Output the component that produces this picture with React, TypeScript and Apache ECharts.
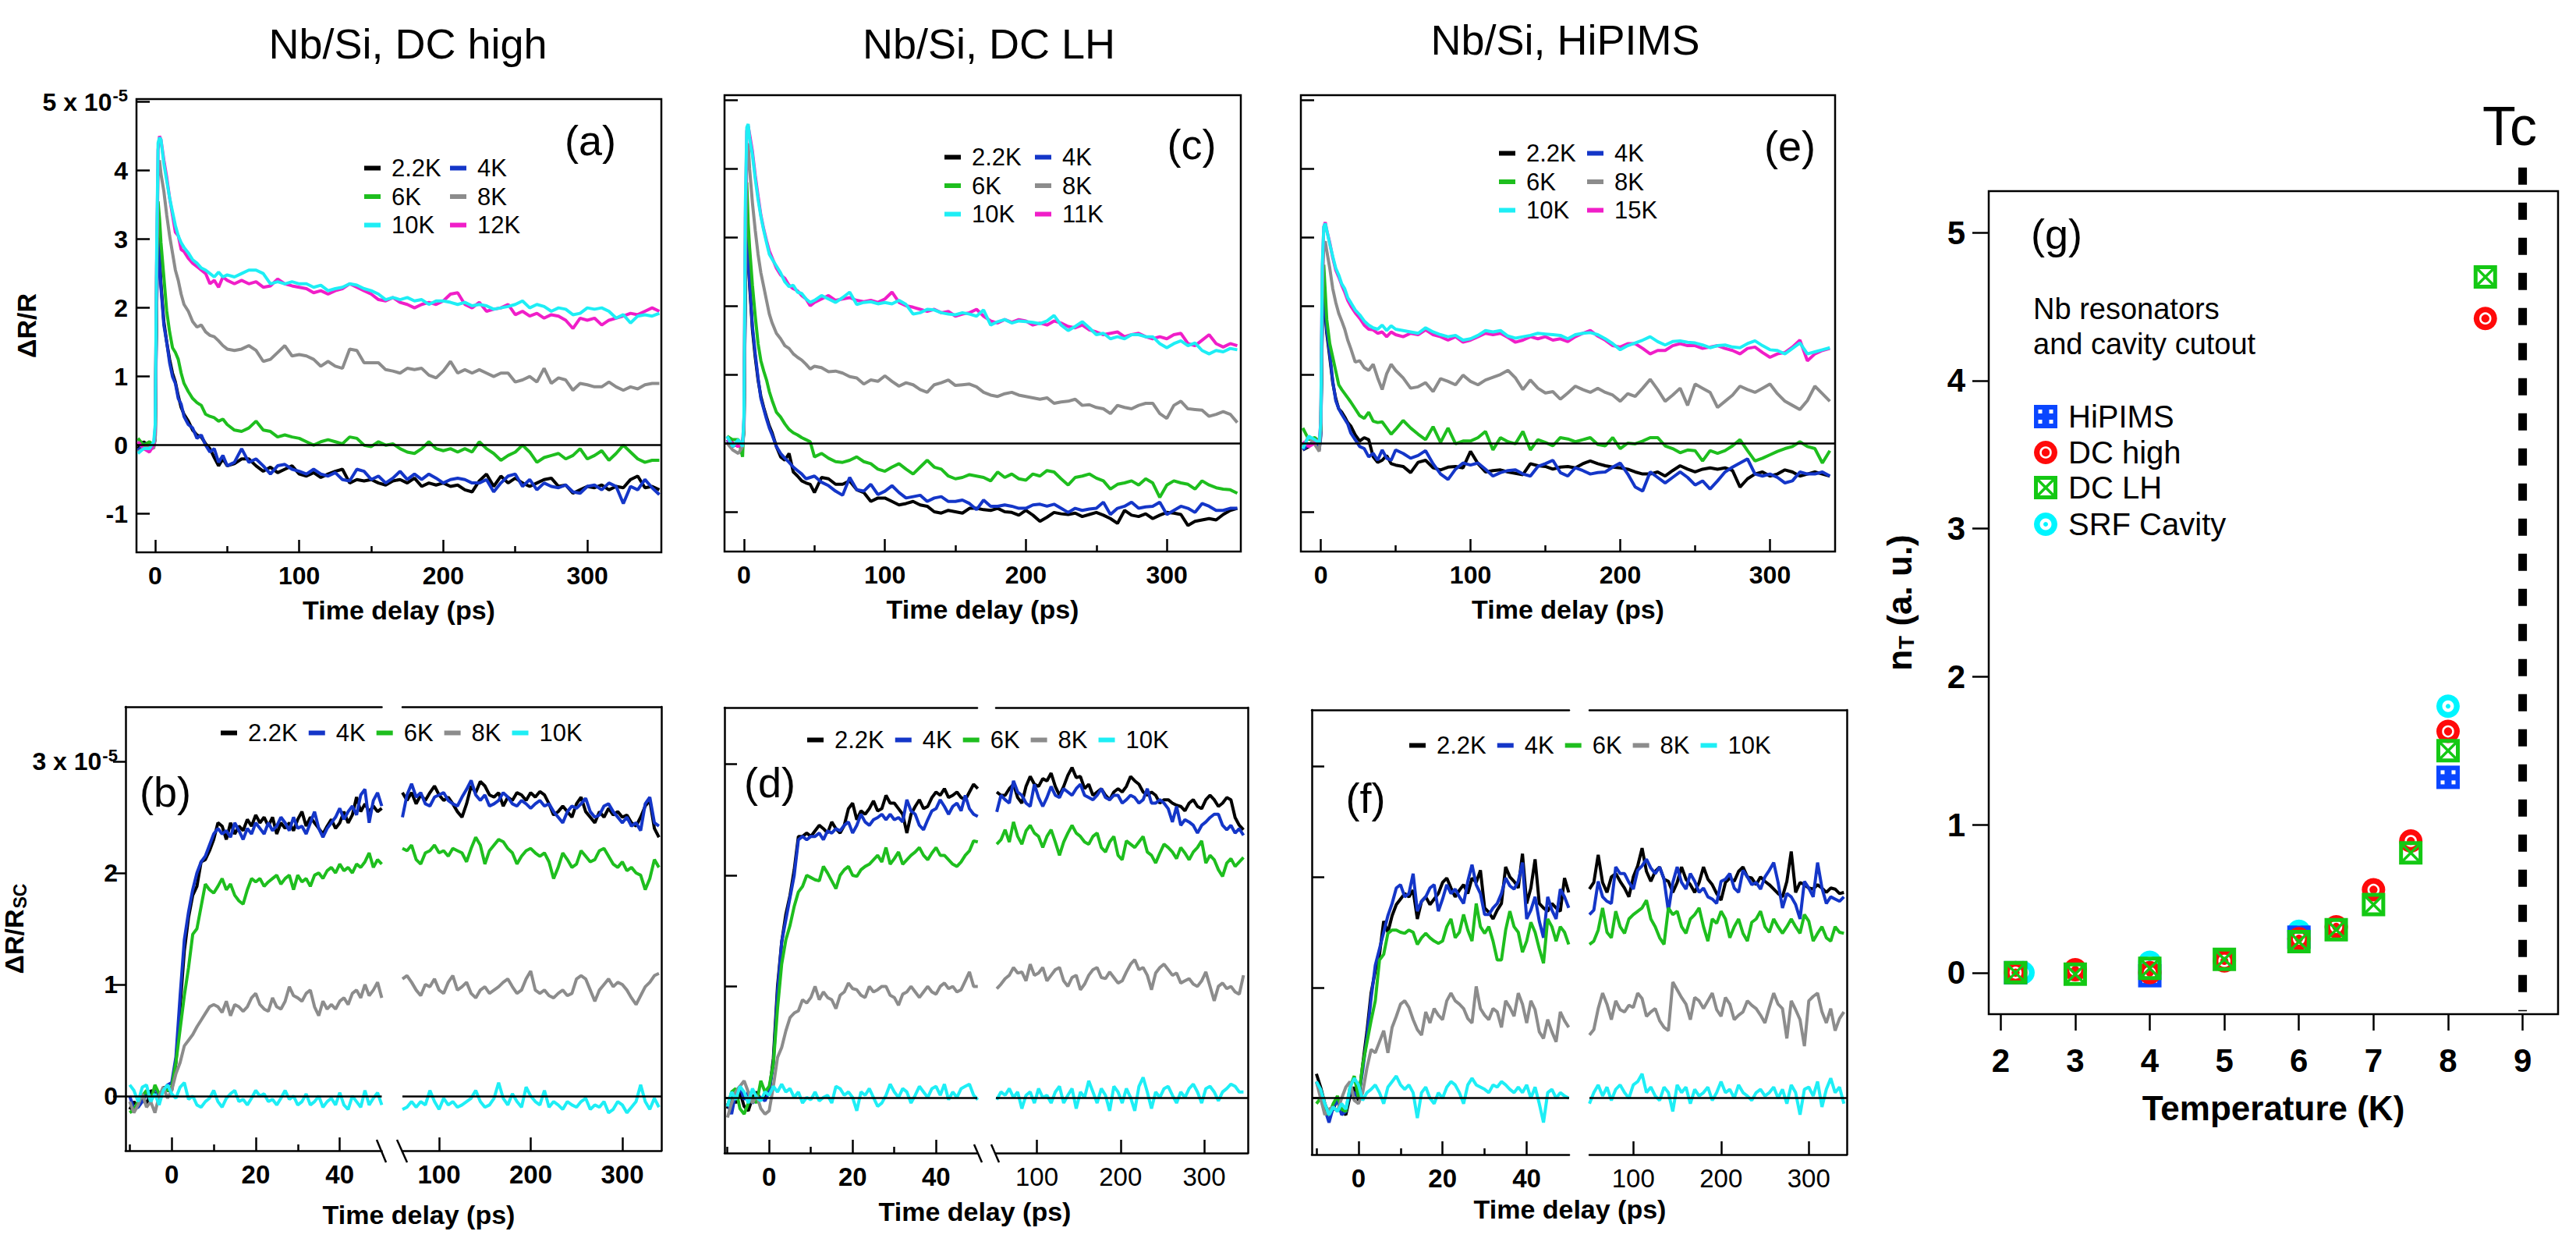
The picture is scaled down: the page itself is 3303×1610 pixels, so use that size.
import React, { useEffect, useRef } from 'react';
import * as echarts from 'echarts';

const FONT = "'Liberation Sans', Arial, Helvetica, sans-serif";

// ---------- colours ----------
const COL_22 = '#000000';
const COL_4 = '#1436c8';
const COL_6 = '#1ebe1e';
const COL_8 = '#8c8c8c';
const COL_10 = '#1eeef5';
const COL_HI = '#f01ec8';
const MK_BLUE = '#0a46ff';
const MK_RED = '#ff0a0a';
const MK_GREEN = '#14c814';
const MK_CYAN = '#00f5ff';

// ---------- tick values ----------
const X_TICKS_TOP = [0, 100, 200, 300];
const X_MINOR_TOP = [50, 150, 250];
const Y_TICKS_TOP = [-1, 0, 1, 2, 3, 4, 5];
const X_TICKS_BL = [0, 20, 40];
const X_MINOR_BL = [-10, 10, 30];
const X_TICKS_BR = [100, 200, 300];
const Y_TICKS_BOT = [0, 1, 2, 3];
const G_X_TICKS = [2, 3, 4, 5, 6, 7, 8, 9];
const G_Y_TICKS = [0, 1, 2, 3, 4, 5];

// ---------- top panels time axis (ps) ----------
const T_TOP = [-12, -8, -4, -1, 0, 1, 2, 3, 4, 6, 8, 10, 12, 14, 16, 18, 20, 23, 26, 29, 32, 35, 38, 41, 44, 47, 50,
  55, 60, 65, 70, 75, 80, 85, 90, 95, 100, 105, 110, 115, 120, 125, 130, 135, 140, 145, 150, 155, 160, 165, 170, 175, 180, 185, 190, 195, 200,
  205, 210, 215, 220, 225, 230, 235, 240, 245, 250, 255, 260, 265, 270, 275, 280, 285, 290, 295, 300, 305, 310, 315, 320, 325, 330, 335, 340, 345, 350];
const T_TOP_E = [-12, -8, -4, -1, 0, 1, 2, 3, 4, 6, 8, 10, 12, 14, 16, 18, 20, 23, 26, 29, 32, 35, 38, 41, 44, 47, 50,
  55, 60, 65, 70, 75, 80, 85, 90, 95, 100, 105, 110, 115, 120, 125, 130, 135, 140, 145, 150, 155, 160, 165, 170, 175, 180, 185, 190, 195, 200,
  205, 210, 215, 220, 225, 230, 235, 240, 245, 250, 255, 260, 265, 270, 275, 280, 285, 290, 295, 300, 305, 310, 315, 320, 325, 330, 335, 340];

// (a) Nb/Si, DC high  (x 1e-5)
const A_2K2 = [-0.05, 0.05, -0.02, 0.0, 0.1, 2.2, 3.1, 2.75, 2.35, 1.8, 1.5, 1.25, 1.05, 0.92, 0.72, 0.55, 0.45, 0.35, 0.22, 0.15, 0.12, 0.02, -0.05, -0.18, -0.3, -0.2, -0.3,
  -0.27, -0.2, -0.2, -0.3, -0.38, -0.32, -0.4, -0.35, -0.3, -0.42,
  -0.45, -0.4, -0.47, -0.42, -0.38, -0.35, -0.55, -0.5, -0.52, -0.5,
  -0.55, -0.58, -0.52, -0.5, -0.55, -0.48, -0.6, -0.55, -0.58, -0.55,
  -0.6, -0.58, -0.65, -0.68, -0.52, -0.42, -0.6, -0.45, -0.55, -0.48,
  -0.55, -0.6, -0.55, -0.5, -0.48, -0.6, -0.58, -0.7, -0.65, -0.6,
  -0.62, -0.58, -0.65, -0.6, -0.62, -0.5, -0.45, -0.62, -0.6, -0.65];
const A_4K = [-0.08, 0.02, 0.0, -0.02, 0.1, 2.0, 3.0, 2.7, 2.3, 1.75, 1.5, 1.2, 1.0, 0.9, 0.68, 0.6, 0.42, 0.3, 0.25, 0.1, 0.15, 0.0, -0.1, -0.05, -0.25, -0.15, -0.3,
  -0.25, -0.05, -0.25, -0.2, -0.3, -0.42, -0.3, -0.28, -0.35, -0.38,
  -0.42, -0.35, -0.42, -0.45, -0.4, -0.5, -0.52, -0.35, -0.38, -0.5,
  -0.45, -0.55, -0.48, -0.38, -0.5, -0.42, -0.5, -0.42, -0.48, -0.55,
  -0.5, -0.48, -0.5, -0.55, -0.55, -0.5, -0.68, -0.55, -0.45, -0.42,
  -0.6, -0.5, -0.65, -0.55, -0.6, -0.62, -0.58, -0.68, -0.7, -0.6,
  -0.58, -0.65, -0.55, -0.6, -0.85, -0.6, -0.65, -0.5, -0.62, -0.72];
const A_6K = [0.1, 0.0, 0.05, 0.0, 0.1, 2.4, 3.55, 3.3, 2.95, 2.45, 1.95, 1.65, 1.42, 1.35, 1.25, 1.05, 0.9, 0.78, 0.68, 0.62, 0.58, 0.45, 0.42, 0.4, 0.35, 0.38, 0.3,
  0.22, 0.2, 0.25, 0.35, 0.22, 0.2, 0.12, 0.15, 0.12, 0.1,
  0.05, 0.0, 0.05, 0.08, 0.05, 0.02, 0.12, 0.1, 0.0, -0.02,
  0.05, 0.0, 0.02, -0.05, -0.1, -0.12, -0.05, 0.05, -0.05, -0.08,
  -0.05, -0.1, -0.05, -0.1, 0.05, -0.05, -0.12, -0.22, -0.15, -0.1,
  0.0, -0.1, -0.25, -0.18, -0.15, -0.12, -0.2, -0.15, -0.05, -0.2,
  -0.15, -0.08, -0.22, -0.12, 0.0, -0.1, -0.2, -0.25, -0.22, -0.22];
const A_8K = [-0.1, -0.05, 0.0, -0.05, 0.1, 2.6, 4.0, 4.15, 3.95, 3.7, 3.35, 3.05, 2.8, 2.55, 2.4, 2.2, 2.05, 1.95, 1.8, 1.72, 1.75, 1.65, 1.6, 1.58, 1.52, 1.45, 1.4,
  1.38, 1.4, 1.45, 1.38, 1.22, 1.25, 1.35, 1.45, 1.3, 1.32,
  1.3, 1.25, 1.15, 1.22, 1.15, 1.12, 1.4, 1.38, 1.2, 1.2,
  1.2, 1.1, 1.08, 1.05, 1.12, 1.1, 1.12, 1.02, 0.98, 1.08,
  1.22, 1.05, 1.1, 1.05, 1.1, 1.05, 1.0, 1.05, 1.05, 0.92,
  0.95, 1.0, 0.92, 1.12, 0.9, 0.98, 0.95, 0.8, 0.9, 0.88,
  0.85, 0.85, 0.92, 0.85, 0.8, 0.85, 0.82, 0.88, 0.9, 0.9];
const A_10K = [-0.12, -0.05, -0.05, 0.05, 0.3, 2.8, 4.4, 4.48, 4.45, 4.1, 3.85, 3.6, 3.4, 3.2, 3.05, 2.95, 2.88, 2.8, 2.7, 2.65, 2.58, 2.55, 2.5, 2.45, 2.52, 2.45, 2.48,
  2.45, 2.5, 2.55, 2.55, 2.5, 2.35, 2.38, 2.35, 2.38, 2.35,
  2.35, 2.3, 2.33, 2.25, 2.28, 2.3, 2.35, 2.33, 2.28, 2.25,
  2.2, 2.12, 2.15, 2.12, 2.15, 2.1, 2.12, 2.05, 2.1, 2.1,
  2.08, 2.05, 2.08, 2.03, 2.05, 2.03, 1.98, 2.0, 2.02, 2.05,
  2.1, 2.0, 2.05, 2.02, 1.95, 2.0, 1.98, 1.9, 1.92, 2.0,
  1.98, 2.0, 1.95, 1.85, 1.9, 1.78, 1.88, 1.9, 1.88, 1.92];
const A_12K = [0.05, -0.05, -0.1, 0.0, 0.25, 2.6, 4.3, 4.5, 4.45, 4.15, 3.9, 3.6, 3.35, 3.1, 3.05, 2.85, 2.82, 2.72, 2.65, 2.6, 2.55, 2.5, 2.35, 2.4, 2.3, 2.45, 2.4,
  2.35, 2.4, 2.35, 2.38, 2.3, 2.32, 2.42, 2.35, 2.32, 2.3,
  2.28, 2.22, 2.25, 2.2, 2.25, 2.28, 2.35, 2.3, 2.25, 2.2,
  2.12, 2.1, 2.15, 2.08, 2.05, 2.0, 2.05, 2.08, 2.05, 2.1,
  2.2, 2.22, 2.05, 2.0, 2.08, 1.95, 1.98, 2.0, 2.05, 1.9,
  1.95, 1.88, 1.92, 1.85, 1.9, 1.88, 1.82, 1.7, 1.85, 1.82,
  1.85, 1.75, 1.82, 1.85, 1.88, 1.92, 1.9, 1.95, 2.0, 1.95];

// (c) Nb/Si, DC LH
const C_2K2 = [0.1, 0.0, -0.05, 0.0, 0.2, 2.3, 3.2, 2.7, 2.3, 1.65, 1.25, 0.92, 0.68, 0.52, 0.38, 0.25, 0.15, -0.05, -0.2, -0.25, -0.15, -0.42, -0.48, -0.55, -0.58, -0.6, -0.72,
  -0.5, -0.52, -0.6, -0.6, -0.55, -0.68, -0.72, -0.85, -0.8, -0.8,
  -0.85, -0.9, -0.88, -0.85, -0.9, -0.92, -1.0, -1.02, -0.98, -1.0,
  -1.02, -0.95, -0.95, -0.97, -0.98, -0.95, -1.0, -1.01, -1.05, -0.98,
  -1.05, -1.14, -1.08, -1.01, -1.03, -1.04, -1.02, -1.07, -1.04, -1.01,
  -1.05, -1.1, -1.17, -0.98, -1.05, -1.07, -1.03, -1.1, -1.05, -1.01,
  -1.02, -1.04, -1.2, -1.14, -1.12, -1.1, -1.12, -1.04, -0.98, -0.95];
const C_4K = [0.05, -0.05, 0.02, -0.05, 0.2, 2.2, 3.15, 2.75, 2.35, 1.7, 1.3, 0.95, 0.65, 0.5, 0.35, 0.22, 0.12, -0.05, -0.15, -0.22, -0.28, -0.35, -0.4, -0.45, -0.52, -0.5, -0.48,
  -0.57, -0.62, -0.7, -0.76, -0.5, -0.68, -0.7, -0.6, -0.75, -0.7,
  -0.62, -0.72, -0.8, -0.78, -0.76, -0.85, -0.8, -0.78, -0.85, -0.85,
  -0.83, -0.88, -0.97, -0.83, -0.92, -0.92, -0.9, -0.92, -0.95, -0.95,
  -0.9, -0.89, -0.92, -0.89, -0.95, -1.01, -0.95, -0.98, -0.96, -0.95,
  -0.86, -1.04, -0.95, -0.92, -0.86, -0.95, -0.93, -0.92, -0.86, -1.04,
  -0.98, -0.92, -0.95, -1.01, -0.88, -0.92, -0.98, -0.98, -0.95, -0.95];
const C_6K = [0.1, 0.05, 0.05, -0.2, 0.3, 2.6, 3.8, 3.2, 2.85, 2.3, 1.85, 1.45, 1.2, 1.05, 0.92, 0.75, 0.62, 0.45, 0.38, 0.28, 0.2, 0.15, 0.12, 0.08, 0.05, 0.02, -0.2,
  -0.15, -0.22, -0.27, -0.28, -0.25, -0.2, -0.27, -0.3, -0.38, -0.41,
  -0.35, -0.3, -0.38, -0.45, -0.35, -0.25, -0.35, -0.38, -0.48, -0.52,
  -0.5, -0.46, -0.48, -0.5, -0.55, -0.42, -0.5, -0.45, -0.52, -0.54,
  -0.45, -0.48, -0.4, -0.42, -0.52, -0.61, -0.5, -0.48, -0.45, -0.51,
  -0.55, -0.67, -0.6, -0.58, -0.55, -0.61, -0.52, -0.58, -0.79, -0.61,
  -0.55, -0.58, -0.6, -0.67, -0.55, -0.61, -0.65, -0.67, -0.68, -0.73];
const C_8K = [0.0, -0.1, -0.15, -0.05, 0.2, 2.8, 4.2, 4.37, 4.0, 3.5, 3.1, 2.75, 2.48, 2.28, 2.08, 1.88, 1.75, 1.6, 1.52, 1.42, 1.38, 1.3, 1.25, 1.21, 1.15, 1.08, 1.12,
  1.1, 1.04, 1.05, 1.02, 0.97, 0.95, 0.86, 0.92, 0.9, 0.98,
  0.9, 0.83, 0.88, 0.85, 0.78, 0.74, 0.85, 0.88, 0.92, 0.84,
  0.85, 0.86, 0.82, 0.74, 0.7, 0.68, 0.72, 0.74, 0.7, 0.68,
  0.66, 0.64, 0.66, 0.58, 0.6, 0.61, 0.64, 0.55, 0.56, 0.52,
  0.5, 0.43, 0.55, 0.52, 0.5, 0.55, 0.58, 0.58, 0.43, 0.36,
  0.55, 0.61, 0.5, 0.49, 0.48, 0.39, 0.42, 0.46, 0.42, 0.3];
const C_10K = [0.1, -0.05, 0.05, -0.05, 0.4, 3.5, 4.6, 4.65, 4.45, 4.2, 3.85, 3.55, 3.3, 3.1, 2.92, 2.75, 2.68, 2.58, 2.48, 2.35, 2.28, 2.3, 2.2, 2.18, 2.1, 2.05, 2.08,
  2.15, 2.1, 2.05, 2.12, 2.2, 2.02, 2.05, 2.06, 2.03, 2.05,
  2.03, 2.08, 2.02, 1.88, 1.9, 1.95, 1.94, 1.9, 1.88, 1.87,
  1.9, 1.88, 1.85, 1.94, 1.72, 1.77, 1.8, 1.75, 1.78, 1.77,
  1.76, 1.74, 1.78, 1.86, 1.72, 1.64, 1.7, 1.77, 1.68, 1.58,
  1.6, 1.52, 1.55, 1.52, 1.58, 1.58, 1.55, 1.55, 1.45, 1.39,
  1.45, 1.49, 1.42, 1.46, 1.35, 1.3, 1.35, 1.33, 1.38, 1.36];
const C_11K = [0.05, 0.0, -0.05, 0.0, 0.35, 3.3, 4.55, 4.62, 4.5, 4.25, 3.9, 3.6, 3.32, 3.12, 2.95, 2.8, 2.7, 2.55, 2.45, 2.4, 2.3, 2.25, 2.22, 2.15, 2.1, 2.0, 2.05,
  2.1, 2.15, 2.08, 2.1, 2.12, 2.08, 2.06, 2.08, 2.05, 2.1,
  2.2, 2.05, 2.0, 1.98, 1.95, 1.92, 1.95, 1.9, 1.92, 1.85,
  1.88, 1.9, 1.95, 1.85, 1.78, 1.75, 1.8, 1.76, 1.8, 1.78,
  1.72, 1.75, 1.72, 1.78, 1.75, 1.7, 1.68, 1.72, 1.65, 1.62,
  1.58, 1.6, 1.62, 1.55, 1.58, 1.6, 1.55, 1.52, 1.55, 1.52,
  1.58, 1.6, 1.45, 1.42, 1.5, 1.58, 1.45, 1.4, 1.45, 1.42];

// (e) Nb/Si, HiPIMS
const E_2K2 = [-0.1, -0.05, 0.05, -0.08, 0.15, 1.8, 2.4, 1.9, 1.6, 1.25, 0.88, 0.65, 0.5, 0.45, 0.38, 0.3, 0.25, 0.12, 0.03, 0.08, 0.05, -0.2, -0.28, -0.25, -0.18, -0.3, -0.32,
  -0.34, -0.43, -0.28, -0.25, -0.36, -0.39, -0.35, -0.34, -0.36, -0.12,
  -0.3, -0.42, -0.4, -0.39, -0.42, -0.44, -0.46, -0.3, -0.33, -0.34,
  -0.38, -0.35, -0.34, -0.36, -0.3, -0.26, -0.3, -0.33, -0.35, -0.36,
  -0.38, -0.42, -0.45, -0.45, -0.42, -0.48, -0.4, -0.33, -0.38, -0.42,
  -0.38, -0.36, -0.38, -0.36, -0.4, -0.64, -0.52, -0.45, -0.42, -0.48,
  -0.45, -0.39, -0.42, -0.48, -0.45, -0.42, -0.45, -0.48];
const E_4K = [-0.1, -0.02, 0.02, -0.1, 0.1, 1.7, 2.35, 1.95, 1.65, 1.3, 0.9, 0.62, 0.5, 0.42, 0.35, 0.28, 0.15, 0.05, -0.05, -0.08, -0.2, -0.15, -0.25, -0.1, -0.22, -0.25, -0.1,
  -0.15, -0.22, -0.18, -0.11, -0.3, -0.45, -0.53, -0.38, -0.29, -0.32,
  -0.29, -0.38, -0.48, -0.43, -0.4, -0.39, -0.45, -0.48, -0.34, -0.3,
  -0.25, -0.43, -0.48, -0.36, -0.4, -0.45, -0.43, -0.42, -0.35, -0.29,
  -0.45, -0.64, -0.7, -0.42, -0.5, -0.58, -0.5, -0.42, -0.5, -0.61,
  -0.55, -0.67, -0.55, -0.42, -0.35, -0.29, -0.23, -0.45, -0.48, -0.45,
  -0.5, -0.58, -0.55, -0.42, -0.45, -0.45, -0.42, -0.48];
const E_6K = [0.22, 0.05, 0.08, 0.02, 0.2, 2.1, 2.6, 2.2, 1.8, 1.45, 1.25, 1.05, 0.85, 0.78, 0.72, 0.66, 0.6, 0.5, 0.4, 0.36, 0.45, 0.32, 0.3, 0.31, 0.22, 0.13, 0.2,
  0.33, 0.22, 0.13, 0.05, 0.24, 0.01, 0.22, -0.01, 0.03, 0.03,
  0.08, 0.17, -0.1, 0.08, 0.02, -0.01, 0.17, -0.1, 0.05, 0.01,
  -0.04, 0.08, 0.06, 0.02, 0.05, 0.08, -0.02, -0.04, 0.08, -0.08,
  0.0, -0.01, 0.03, 0.08, 0.08, -0.04, -0.08, -0.14, -0.1, -0.11,
  -0.26, -0.11, -0.15, -0.11, -0.04, 0.05, -0.11, -0.26, -0.22, -0.17,
  -0.12, -0.08, -0.05, 0.02, -0.05, -0.08, -0.29, -0.11];
const E_8K = [-0.05, 0.1, -0.02, -0.12, 0.2, 2.2, 2.9, 2.94, 2.8, 2.55, 2.25, 2.05, 1.89, 1.78, 1.66, 1.5, 1.38, 1.18, 1.2, 1.1, 1.06, 1.15, 0.95, 0.78, 1.01, 1.15, 1.06,
  0.95, 0.8, 0.82, 0.88, 0.75, 0.94, 0.9, 0.85, 0.99, 0.9,
  0.85, 0.92, 0.96, 1.0, 1.06, 0.95, 0.78, 0.92, 0.8, 0.73,
  0.75, 0.64, 0.73, 0.83, 0.78, 0.74, 0.8, 0.74, 0.7, 0.61,
  0.72, 0.68, 0.8, 0.93, 0.78, 0.61, 0.7, 0.8, 0.55, 0.86,
  0.8, 0.74, 0.52, 0.61, 0.7, 0.83, 0.78, 0.74, 0.8, 0.86,
  0.72, 0.61, 0.55, 0.49, 0.62, 0.83, 0.72, 0.61];
const E_10K = [-0.08, 0.1, 0.05, 0.0, 0.3, 2.6, 3.15, 3.2, 3.1, 2.9, 2.72, 2.55, 2.45, 2.32, 2.25, 2.12, 2.05, 1.94, 1.87, 1.78, 1.72, 1.68, 1.66, 1.72, 1.64, 1.71, 1.66,
  1.64, 1.62, 1.6, 1.68, 1.62, 1.58, 1.55, 1.57, 1.5, 1.52,
  1.57, 1.64, 1.62, 1.64, 1.56, 1.53, 1.55, 1.57, 1.6, 1.59,
  1.58, 1.57, 1.52, 1.58, 1.6, 1.61, 1.58, 1.52, 1.45, 1.36,
  1.42, 1.46, 1.5, 1.55, 1.48, 1.43, 1.48, 1.49, 1.47, 1.46,
  1.43, 1.39, 1.42, 1.43, 1.4, 1.39, 1.45, 1.49, 1.42, 1.36,
  1.35, 1.3, 1.38, 1.46, 1.3, 1.33, 1.36, 1.39];
const E_15K = [0.02, -0.05, 0.0, 0.05, 0.3, 2.5, 3.15, 3.22, 3.1, 2.92, 2.7, 2.52, 2.42, 2.3, 2.2, 2.08, 2.0, 1.9, 1.82, 1.72, 1.66, 1.65, 1.6, 1.62, 1.55, 1.62, 1.58,
  1.55, 1.6, 1.58, 1.65, 1.58, 1.55, 1.5, 1.55, 1.47, 1.5,
  1.55, 1.6, 1.58, 1.6, 1.54, 1.47, 1.5, 1.55, 1.52, 1.55,
  1.5, 1.52, 1.48, 1.55, 1.6, 1.64, 1.56, 1.5, 1.42, 1.4,
  1.45, 1.45, 1.38, 1.3, 1.35, 1.35, 1.42, 1.45, 1.42, 1.42,
  1.38, 1.4, 1.42, 1.38, 1.35, 1.3, 1.38, 1.4, 1.32, 1.25,
  1.3, 1.32, 1.4, 1.5, 1.2, 1.3, 1.35, 1.38];

// ---------- bottom panels (superconducting component) ----------
const T_BL = [-10, -9, -8, -7, -6, -5, -4, -3, -2, -1, 0, 1, 2, 3, 4, 5, 6, 7, 8, 9, 10, 11, 12, 13, 14, 15, 16, 17, 18, 19, 20,
  21, 22, 23, 24, 25, 26, 27, 28, 29, 30, 31, 32, 33, 34, 35, 36, 37, 38, 39, 40, 41, 42, 43, 44, 45, 46, 47, 48, 49, 50];
const T_BR_B = [60, 65, 70, 75, 80, 85, 90, 95, 100, 105, 110, 115, 120, 125, 130, 135, 140, 145, 150, 155, 160, 165, 170, 175, 180, 185, 190, 195, 200, 205,
  210, 215, 220, 225, 230, 235, 240, 245, 250, 255, 260, 265, 270, 275, 280, 285, 290, 295, 300, 305, 310, 315, 320, 325, 330, 335, 340];
const T_BR_D = [52, 57, 62, 67, 72, 77, 82, 87, 92, 97, 102, 107, 112, 117, 122, 127, 132, 137, 142, 147, 152, 157, 162, 167, 172, 177, 182, 187, 192, 197,
  202, 207, 212, 217, 222, 227, 232, 237, 242, 247, 252, 257, 262, 267, 272, 277, 282, 287, 292, 297, 302, 307, 312, 317, 322, 327, 332, 337, 342, 347];
const T_BR_F = [50, 55, 60, 65, 70, 75, 80, 85, 90, 95, 100, 105, 110, 115, 120, 125, 130, 135, 140, 145, 150, 155, 160, 165, 170, 175, 180, 185, 190, 195,
  200, 205, 210, 215, 220, 225, 230, 235, 240, 245, 250, 255, 260, 265, 270, 275, 280, 285, 290, 295, 300, 305, 310, 315, 320, 325, 330, 335, 340];

// (b)
const B_2K2_L = [-0.12, -0.05, -0.1, 0.0, -0.08, 0.05, 0.02, -0.05, 0.08, 0.05, 0.05, 0.3, 0.8, 1.3, 1.6, 1.8, 1.88, 2.1, 2.12, 2.2, 2.3,
  2.45, 2.42, 2.3, 2.45, 2.35, 2.42, 2.38, 2.48, 2.42, 2.52, 2.45, 2.5, 2.42, 2.5, 2.35, 2.45, 2.4, 2.45, 2.38, 2.48,
  2.55, 2.42, 2.5, 2.45, 2.4, 2.35, 2.42, 2.48, 2.4, 2.45, 2.55, 2.45, 2.52, 2.68, 2.55, 2.62, 2.55, 2.6, 2.55, 2.58];
const B_4K_L = [0.0, -0.12, -0.1, -0.05, 0.02, -0.05, 0.08, 0.0, 0.05, 0.1, 0.12, 0.35, 0.9, 1.4, 1.65, 1.85, 2.0, 2.1, 2.15, 2.25, 2.35,
  2.4, 2.35, 2.38, 2.32, 2.45, 2.38, 2.3, 2.4, 2.35, 2.45, 2.4, 2.35, 2.45, 2.38, 2.42, 2.5, 2.45, 2.38, 2.5, 2.4,
  2.42, 2.35, 2.45, 2.55, 2.4, 2.32, 2.4, 2.45, 2.5, 2.58, 2.48, 2.55, 2.6, 2.52, 2.7, 2.75, 2.45, 2.65, 2.72, 2.6];
const B_6K_L = [-0.15, -0.12, -0.05, 0.0, 0.05, -0.05, 0.1, 0.02, 0.05, 0.05, 0.08, 0.3, 0.6, 0.9, 1.15, 1.45, 1.5, 1.7, 1.9, 1.85, 1.82,
  1.88, 1.95, 1.85, 1.9, 1.8, 1.75, 1.72, 1.85, 1.95, 1.92, 1.95, 1.88, 1.92, 1.95, 1.98, 1.9, 1.95, 1.98, 1.85, 1.98,
  1.92, 1.95, 1.88, 1.98, 2.0, 1.95, 2.02, 2.05, 2.0, 2.08, 2.02, 2.05, 2.0, 2.08, 2.05, 2.1, 2.18, 2.05, 2.12, 2.08];
const B_8K_L = [-0.05, -0.15, -0.08, 0.02, -0.1, -0.05, -0.15, 0.0, 0.08, -0.02, 0.05, 0.2, 0.3, 0.45, 0.5, 0.55, 0.62, 0.68, 0.74, 0.8, 0.82,
  0.8, 0.75, 0.85, 0.72, 0.82, 0.8, 0.76, 0.8, 0.88, 0.92, 0.82, 0.78, 0.76, 0.88, 0.8, 0.78, 0.85, 0.98, 0.9, 0.88,
  0.85, 0.92, 0.95, 0.8, 0.72, 0.85, 0.78, 0.82, 0.78, 0.85, 0.88, 0.82, 0.92, 0.95, 0.88, 1.0, 0.9, 0.95, 1.02, 0.88];
const B_10K_L = [0.1, 0.05, -0.05, 0.08, 0.1, -0.05, 0.02, -0.08, 0.05, 0.1, 0.02, -0.02, 0.08, 0.12, -0.03, 0.0, -0.08, -0.1, -0.05, -0.02, 0.05,
  -0.05, -0.1, -0.02, 0.02, 0.05, -0.05, -0.03, -0.08, -0.02, 0.05, 0.0, 0.02, -0.05, -0.03, -0.08, -0.02, 0.05, -0.03, 0.0, -0.08,
  -0.05, 0.02, -0.08, -0.05, 0.0, -0.1, -0.05, -0.02, -0.08, 0.03, -0.08, -0.12, 0.0, -0.05, -0.1, 0.05, -0.08, -0.02, 0.03, -0.08];
const B_2K2_R = [2.72, 2.65, 2.72, 2.62, 2.7, 2.65, 2.72, 2.78, 2.7, 2.65, 2.68, 2.62, 2.55, 2.5, 2.62, 2.78, 2.72, 2.82, 2.78, 2.7,
  2.68, 2.72, 2.6, 2.68, 2.65, 2.72, 2.7, 2.65, 2.72, 2.68, 2.73, 2.7, 2.62, 2.52, 2.55, 2.6, 2.55, 2.5, 2.62, 2.68,
  2.55, 2.5, 2.45, 2.55, 2.5, 2.58, 2.52, 2.55, 2.5, 2.52, 2.45, 2.42, 2.5, 2.6, 2.65, 2.4, 2.32];
const B_4K_R = [2.5, 2.7, 2.8, 2.68, 2.72, 2.62, 2.6, 2.68, 2.7, 2.72, 2.65, 2.62, 2.6, 2.68, 2.75, 2.83, 2.7, 2.65, 2.7, 2.6,
  2.62, 2.65, 2.72, 2.68, 2.62, 2.6, 2.65, 2.62, 2.58, 2.62, 2.65, 2.6, 2.62, 2.55, 2.5, 2.45, 2.55, 2.6, 2.58, 2.62,
  2.67, 2.55, 2.5, 2.52, 2.6, 2.62, 2.55, 2.5, 2.45, 2.5, 2.42, 2.45, 2.38, 2.62, 2.68, 2.45, 2.42];
const B_6K_R = [2.22, 2.2, 2.25, 2.12, 2.08, 2.18, 2.2, 2.25, 2.18, 2.2, 2.15, 2.22, 2.2, 2.18, 2.1, 2.22, 2.32, 2.25, 2.08, 2.2,
  2.25, 2.3, 2.28, 2.22, 2.18, 2.08, 2.15, 2.2, 2.22, 2.18, 2.15, 2.18, 2.1, 1.95, 2.05, 2.18, 2.12, 2.05, 2.08, 2.2,
  2.15, 2.1, 2.12, 2.2, 2.22, 2.15, 2.08, 2.05, 2.1, 2.02, 2.05, 2.0, 1.98, 1.85, 1.95, 2.12, 2.05];
const B_8K_R = [1.05, 1.08, 1.02, 0.95, 0.9, 1.0, 0.98, 1.05, 0.95, 0.92, 1.02, 1.08, 0.95, 0.98, 1.02, 0.92, 0.88, 0.95, 0.98, 0.92,
  0.95, 0.98, 1.02, 1.05, 0.98, 0.92, 0.95, 1.05, 1.12, 0.95, 0.92, 0.95, 0.9, 0.88, 0.92, 0.95, 0.9, 0.92, 1.05, 1.08,
  1.05, 0.95, 0.85, 0.95, 1.0, 1.05, 0.98, 1.02, 1.0, 0.95, 0.88, 0.82, 0.9, 0.98, 1.02, 1.08, 1.1];
const B_10K_R = [-0.12, -0.1, -0.05, -0.1, -0.05, -0.08, 0.05, -0.05, -0.12, -0.02, -0.08, -0.05, -0.1, -0.08, -0.05, -0.02, 0.05, -0.05, -0.1, -0.08,
  -0.02, 0.12, -0.02, -0.08, 0.02, -0.05, -0.1, 0.08, 0.0, -0.05, -0.08, 0.05, -0.1, -0.05, -0.08, -0.12, -0.05, -0.08, -0.1, -0.05,
  -0.02, -0.12, -0.08, -0.1, -0.05, -0.15, -0.12, -0.05, -0.08, -0.15, -0.1, -0.05, 0.1, -0.05, -0.12, -0.02, -0.1];

// (d)
const D_2K2_L = [-0.1, 0.02, -0.05, 0.05, -0.08, -0.12, 0.0, 0.05, -0.02, 0.0, 0.05, 0.35, 1.0, 1.4, 1.65, 1.82, 2.05, 2.35, 2.35, 2.38, 2.35,
  2.4, 2.45, 2.42, 2.38, 2.48, 2.42, 2.38, 2.45, 2.6, 2.65, 2.5, 2.58, 2.55, 2.6, 2.67, 2.58, 2.6, 2.72, 2.65, 2.65,
  2.6, 2.55, 2.38, 2.55, 2.62, 2.68, 2.6, 2.62, 2.7, 2.75, 2.72, 2.78, 2.7, 2.72, 2.75, 2.7, 2.68, 2.75, 2.82, 2.78];
const D_4K_L = [-0.05, -0.15, 0.05, 0.1, -0.02, 0.05, -0.05, -0.02, 0.0, -0.03, 0.05, 0.3, 0.95, 1.4, 1.6, 1.8, 2.0, 2.32, 2.35, 2.32, 2.35,
  2.35, 2.38, 2.32, 2.4, 2.38, 2.42, 2.4, 2.45, 2.48, 2.38, 2.45, 2.55, 2.48, 2.45, 2.5, 2.52, 2.55, 2.5, 2.55, 2.5,
  2.52, 2.48, 2.68, 2.58, 2.55, 2.45, 2.41, 2.5, 2.58, 2.6, 2.68, 2.62, 2.55, 2.62, 2.65, 2.58, 2.72, 2.6, 2.55, 2.53];
const D_6K_L = [-0.08, 0.05, 0.08, -0.1, -0.15, -0.05, 0.0, -0.05, 0.15, 0.05, 0.1, 0.3, 0.8, 1.2, 1.42, 1.55, 1.72, 1.85, 1.9, 2.0, 1.98,
  1.96, 1.95, 2.08, 2.02, 1.95, 1.88, 2.0, 2.05, 2.08, 2.0, 1.99, 2.05, 2.08, 2.1, 2.14, 2.18, 2.12, 2.25, 2.1, 2.15,
  2.21, 2.1, 2.14, 2.18, 2.21, 2.25, 2.18, 2.14, 2.2, 2.25, 2.18, 2.18, 2.14, 2.1, 2.08, 2.12, 2.18, 2.22, 2.31, 2.3];
const D_8K_L = [-0.18, -0.05, 0.05, 0.1, 0.15, 0.05, -0.05, 0.02, -0.1, -0.15, -0.12, 0.1, 0.36, 0.45, 0.6, 0.72, 0.76, 0.78, 0.88, 0.85, 0.9,
  1.0, 0.88, 0.95, 0.9, 0.88, 0.8, 0.92, 0.95, 1.03, 0.98, 0.97, 0.92, 0.9, 1.0, 0.95, 0.97, 1.0, 1.0, 0.92, 0.9,
  0.83, 0.93, 0.95, 1.0, 0.95, 0.9, 0.95, 1.0, 0.95, 0.93, 1.0, 1.03, 0.98, 1.0, 0.95, 0.97, 1.05, 1.13, 1.0, 1.0];
const D_10K_L = [-0.08, 0.05, -0.02, 0.1, 0.05, -0.05, 0.08, 0.0, -0.03, 0.05, 0.02, 0.1, 0.05, 0.12, 0.05, 0.08, 0.0, 0.05, -0.05, 0.0, -0.02,
  0.05, -0.03, 0.0, 0.02, -0.05, 0.1, 0.08, 0.02, 0.05, 0.0, -0.12, 0.05, 0.02, 0.08, 0.0, -0.08, -0.05, 0.02, 0.12, 0.05,
  0.0, 0.08, 0.05, -0.05, 0.02, 0.1, 0.05, 0.0, 0.08, 0.1, 0.02, 0.12, -0.02, 0.05, 0.0, 0.08, 0.1, 0.12, 0.02, -0.02];
const D_2K2_R = [2.75, 2.72, 2.72, 2.78, 2.82, 2.7, 2.65, 2.8, 2.89, 2.82, 2.8, 2.87, 2.85, 2.92, 2.8, 2.72, 2.8, 2.9, 2.97, 2.88,
  2.89, 2.78, 2.82, 2.72, 2.75, 2.78, 2.72, 2.68, 2.75, 2.78, 2.75, 2.8, 2.89, 2.85, 2.82, 2.75, 2.72, 2.75, 2.72, 2.65,
  2.68, 2.68, 2.65, 2.63, 2.62, 2.58, 2.65, 2.68, 2.62, 2.6, 2.68, 2.72, 2.68, 2.62, 2.65, 2.7, 2.68, 2.52, 2.45, 2.41];
const D_4K_R = [2.57, 2.72, 2.68, 2.65, 2.85, 2.75, 2.72, 2.65, 2.62, 2.82, 2.7, 2.62, 2.7, 2.8, 2.72, 2.7, 2.78, 2.75, 2.72, 2.78,
  2.82, 2.72, 2.7, 2.68, 2.72, 2.78, 2.7, 2.68, 2.72, 2.72, 2.65, 2.68, 2.72, 2.7, 2.65, 2.68, 2.78, 2.65, 2.65, 2.68,
  2.65, 2.6, 2.48, 2.62, 2.45, 2.5, 2.48, 2.45, 2.38, 2.45, 2.48, 2.52, 2.55, 2.55, 2.45, 2.41, 2.45, 2.38, 2.42, 2.36];
const D_6K_R = [2.28, 2.32, 2.41, 2.3, 2.48, 2.35, 2.28, 2.4, 2.45, 2.38, 2.35, 2.25, 2.35, 2.41, 2.3, 2.18, 2.3, 2.38, 2.45, 2.38,
  2.35, 2.3, 2.28, 2.35, 2.38, 2.25, 2.21, 2.3, 2.35, 2.18, 2.14, 2.31, 2.28, 2.25, 2.3, 2.35, 2.21, 2.18, 2.11, 2.2,
  2.28, 2.25, 2.21, 2.15, 2.25, 2.2, 2.14, 2.21, 2.25, 2.31, 2.11, 2.18, 2.14, 2.05, 1.99, 2.11, 2.15, 2.08, 2.12, 2.16];
const D_8K_R = [0.98, 1.02, 1.07, 1.1, 1.17, 1.12, 1.13, 1.05, 1.2, 1.1, 1.12, 1.17, 1.05, 1.1, 1.15, 1.17, 1.05, 1.0, 1.08, 1.1,
  0.97, 1.02, 1.1, 1.15, 1.17, 1.08, 1.07, 1.13, 1.08, 1.03, 1.05, 1.13, 1.2, 1.24, 1.15, 1.17, 1.1, 0.97, 1.12, 1.17,
  1.2, 1.15, 1.1, 1.12, 1.03, 1.05, 1.07, 1.02, 1.0, 1.05, 1.13, 1.0, 0.87, 1.0, 1.03, 0.98, 1.0, 0.95, 0.93, 1.1];
const D_10K_R = [-0.02, 0.05, 0.02, 0.08, 0.0, 0.05, -0.1, 0.02, 0.05, -0.05, 0.08, 0.0, 0.02, -0.05, 0.05, 0.1, -0.05, 0.02, 0.08, -0.1,
  0.05, 0.0, 0.15, 0.05, -0.05, 0.08, 0.02, -0.12, 0.1, 0.05, -0.05, 0.08, 0.0, -0.12, 0.1, 0.18, 0.05, -0.1, 0.05, 0.0,
  0.08, 0.1, 0.02, -0.05, 0.05, 0.0, 0.08, 0.12, 0.05, -0.05, 0.08, 0.1, 0.05, -0.03, 0.05, 0.08, 0.12, 0.1, 0.05, 0.05];

// (f)
const F_2K2_L = [0.22, 0.1, -0.05, -0.15, -0.1, 0.0, -0.12, -0.15, 0.02, 0.1, -0.02, 0.3, 0.6, 0.95, 1.15, 1.3, 1.6, 1.5, 1.65, 1.75, 1.8,
  1.85, 1.82, 1.88, 1.62, 1.78, 1.82, 1.75, 1.8, 1.85, 1.95, 1.99, 1.9, 1.82, 1.88, 1.93, 1.85, 1.99, 1.95, 2.06, 1.72,
  1.68, 1.62, 1.7, 1.76, 2.09, 2.0, 1.96, 1.9, 2.21, 1.76, 1.9, 2.16, 1.76, 1.72, 1.69, 1.76, 1.72, 1.69, 1.99, 1.86];
const F_4K_L = [0.15, 0.05, -0.1, -0.22, -0.08, -0.02, -0.15, -0.12, 0.05, 0.05, 0.0, 0.25, 0.55, 0.9, 1.2, 1.35, 1.5, 1.65, 1.76, 1.9, 1.93,
  1.82, 1.85, 2.03, 1.69, 1.78, 1.82, 1.9, 1.93, 1.69, 1.8, 1.93, 1.85, 1.89, 1.82, 1.76, 1.96, 2.11, 1.93, 1.85, 1.66,
  1.66, 1.72, 1.76, 1.85, 1.99, 1.92, 1.89, 1.96, 2.13, 1.62, 1.7, 1.82, 1.6, 1.45, 1.82, 1.7, 1.62, 1.89, 1.82, 1.72];
const F_6K_L = [-0.05, 0.0, -0.12, -0.15, -0.05, 0.02, -0.1, -0.12, 0.1, 0.2, 0.0, 0.3, 0.5, 0.7, 0.88, 1.25, 1.3, 1.49, 1.52, 1.52, 1.5,
  1.49, 1.52, 1.5, 1.39, 1.45, 1.49, 1.45, 1.42, 1.4, 1.42, 1.55, 1.62, 1.45, 1.5, 1.66, 1.52, 1.42, 1.76, 1.55, 1.49,
  1.55, 1.42, 1.25, 1.25, 1.52, 1.69, 1.55, 1.5, 1.32, 1.42, 1.59, 1.5, 1.35, 1.22, 1.62, 1.55, 1.42, 1.55, 1.5, 1.39];
const F_8K_L = [0.15, 0.0, -0.15, -0.1, -0.08, -0.12, 0.0, 0.1, 0.15, -0.02, -0.05, 0.05, 0.27, 0.44, 0.41, 0.51, 0.61, 0.41, 0.64, 0.74, 0.85,
  0.88, 0.82, 0.71, 0.62, 0.57, 0.78, 0.68, 0.81, 0.75, 0.71, 0.88, 0.95, 0.88, 0.85, 0.81, 0.72, 0.68, 1.01, 0.81, 0.75,
  0.71, 0.81, 0.78, 0.64, 0.88, 0.82, 0.74, 0.95, 0.85, 0.68, 0.88, 0.8, 0.6, 0.54, 0.71, 0.6, 0.51, 0.78, 0.7, 0.64];
const F_10K_L = [0.15, 0.08, -0.05, -0.15, -0.08, -0.12, -0.05, -0.1, 0.1, 0.18, 0.12, -0.02, 0.05, 0.08, 0.12, 0.05, -0.05, 0.1, 0.15, 0.2, 0.12,
  0.08, 0.12, 0.05, -0.18, 0.05, 0.1, 0.0, -0.05, 0.05, 0.0, 0.1, 0.15, 0.12, 0.05, -0.05, 0.12, 0.18, 0.12, 0.1, 0.08,
  0.05, 0.12, 0.1, 0.15, 0.12, 0.08, 0.05, 0.1, 0.05, 0.12, 0.0, 0.1, -0.05, -0.22, 0.05, 0.08, 0.0, 0.05, 0.02, 0.0];
const F_2K2_R = [1.89, 1.95, 2.2, 1.95, 1.86, 2.0, 2.03, 1.96, 1.9, 1.82, 2.0, 2.1, 2.26, 2.05, 1.96, 2.05, 2.09, 1.98, 1.96, 1.86,
  1.95, 2.09, 1.98, 1.93, 1.86, 1.95, 2.09, 1.98, 1.93, 1.85, 1.79, 1.95, 1.99, 1.96, 2.05, 2.09, 2.0, 1.99, 1.93, 2.0,
  1.96, 1.93, 1.89, 1.85, 1.82, 1.96, 2.23, 1.86, 1.95, 1.93, 1.9, 1.89, 1.93, 1.9, 1.86, 1.9, 1.89, 1.85, 1.86];
const F_4K_R = [1.66, 1.7, 1.96, 1.82, 1.78, 1.76, 2.09, 2.03, 2.03, 1.95, 1.89, 2.06, 2.1, 2.16, 2.08, 2.03, 2.09, 1.98, 1.69, 1.95,
  2.09, 1.95, 1.89, 2.03, 1.96, 1.86, 1.9, 1.82, 1.8, 1.76, 1.96, 1.98, 2.03, 1.9, 1.86, 2.06, 2.0, 1.93, 1.95, 1.89,
  2.0, 2.06, 2.13, 1.95, 1.72, 1.85, 1.82, 1.75, 1.62, 1.96, 1.9, 1.82, 2.13, 1.9, 1.76, 1.82, 1.8, 1.78, 1.82];
const F_6K_R = [1.39, 1.42, 1.52, 1.72, 1.5, 1.45, 1.69, 1.55, 1.49, 1.62, 1.66, 1.69, 1.72, 1.79, 1.62, 1.55, 1.45, 1.39, 1.72, 1.66,
  1.69, 1.55, 1.49, 1.62, 1.66, 1.72, 1.55, 1.42, 1.62, 1.58, 1.69, 1.62, 1.45, 1.55, 1.62, 1.49, 1.42, 1.59, 1.62, 1.69,
  1.55, 1.5, 1.62, 1.55, 1.49, 1.55, 1.62, 1.55, 1.49, 1.66, 1.6, 1.42, 1.49, 1.55, 1.45, 1.42, 1.55, 1.5, 1.49];
const F_8K_R = [0.57, 0.62, 0.81, 0.95, 0.85, 0.71, 0.88, 0.8, 0.78, 0.84, 0.82, 0.95, 0.9, 0.74, 0.78, 0.81, 0.7, 0.64, 0.61, 1.05,
  0.98, 0.91, 0.85, 0.71, 0.91, 0.88, 0.81, 0.88, 0.95, 0.8, 0.74, 0.91, 0.85, 0.71, 0.75, 0.78, 0.88, 0.84, 0.81, 0.75,
  0.68, 0.82, 0.95, 0.85, 0.81, 0.54, 0.88, 0.8, 0.71, 0.47, 0.88, 0.92, 0.95, 0.78, 0.68, 0.81, 0.61, 0.72, 0.78];
const F_10K_R = [-0.05, 0.05, 0.12, 0.02, 0.1, -0.02, 0.08, 0.12, 0.05, 0.0, 0.12, 0.15, 0.22, 0.05, 0.1, 0.02, -0.02, 0.1, 0.05, -0.12,
  0.12, 0.05, 0.1, -0.05, 0.08, 0.02, 0.05, 0.1, -0.02, 0.05, 0.15, 0.05, 0.08, 0.0, 0.12, 0.05, 0.02, -0.02, 0.05, 0.08,
  0.02, 0.05, 0.1, 0.0, 0.08, -0.05, 0.12, 0.05, -0.15, 0.08, 0.1, 0.02, 0.15, -0.08, 0.08, 0.18, 0.05, 0.1, -0.05];

// ---------- (g) thermal quasiparticle density ----------
const G_T_HIPIMS = [2.2, 4, 6, 8];
const G_N_HIPIMS = [0.0, -0.02, 0.24, 1.32];
const G_T_DCHIGH = [2.2, 3, 4, 5, 6, 6.5, 7, 7.5, 8, 8.5];
const G_N_DCHIGH = [0.0, 0.02, 0.0, 0.08, 0.23, 0.31, 0.56, 0.89, 1.63, 4.42];
const G_T_DCLH = [2.2, 3, 4, 5, 6, 6.5, 7, 7.5, 8, 8.5];
const G_N_DCLH = [0.0, -0.01, 0.03, 0.09, 0.21, 0.29, 0.46, 0.81, 1.5, 4.7];
const G_T_SRF = [2.3, 4, 6, 8];
const G_N_SRF = [0.0, 0.07, 0.28, 1.8];
const TC = 9;

// ---------- helpers ----------
const tx = (size: number, bold = false) => ({ fontFamily: FONT, fontSize: size, fontWeight: bold ? 'bold' : 'normal', color: '#000' });
const zip = (t: number[], v: number[]) => t.map((x, i) => [x, v[i]]);
const AXL = { color: '#000', width: 2.5 };

function markerShapes(kind: string, cx: number, cy: number): any[] {
  if (kind === 'hipims') {
    const out: any[] = [{ type: 'rect', shape: { x: cx - 15, y: cy - 15, width: 30, height: 30 }, style: { fill: MK_BLUE } }];
    [[-7, -6.5], [7, -6.5], [-7, 6.5], [7, 6.5]].forEach(([dx, dy]) =>
      out.push({ type: 'rect', shape: { x: cx + dx - 2.5, y: cy + dy - 2.5, width: 5, height: 5 }, style: { fill: '#fff' } }));
    return out;
  }
  if (kind === 'dchigh') {
    return [
      { type: 'circle', shape: { cx, cy, r: 15 }, style: { fill: MK_RED } },
      { type: 'circle', shape: { cx, cy, r: 6.5 }, style: { fill: 'none', stroke: '#fff', lineWidth: 2.5 } },
    ];
  }
  if (kind === 'dclh') {
    return [
      { type: 'rect', shape: { x: cx - 12.5, y: cy - 12.5, width: 25, height: 25 }, style: { fill: 'none', stroke: MK_GREEN, lineWidth: 5 } },
      { type: 'line', shape: { x1: cx - 11, y1: cy - 11, x2: cx + 11, y2: cy + 11 }, style: { stroke: MK_GREEN, lineWidth: 3.5 } },
      { type: 'line', shape: { x1: cx + 11, y1: cy - 11, x2: cx - 11, y2: cy + 11 }, style: { stroke: MK_GREEN, lineWidth: 3.5 } },
    ];
  }
  return [
    { type: 'circle', shape: { cx, cy, r: 15 }, style: { fill: MK_CYAN } },
    { type: 'circle', shape: { cx, cy, r: 7.5 }, style: { fill: '#fff' } },
    { type: 'circle', shape: { cx, cy, r: 3 }, style: { fill: MK_CYAN } },
  ];
}

function buildOption() {
  const grid: any[] = [];
  const xAxis: any[] = [];
  const yAxis: any[] = [];
  const series: any[] = [];
  const graphic: any[] = [];

  const lineSeries = (name: string, color: string, data: number[][], xi: number, yi: number, zero: boolean) => {
    const s: any = {
      type: 'line', name, xAxisIndex: xi, yAxisIndex: yi, data, showSymbol: false, symbol: 'none',
      color, lineStyle: { color, width: 4 }, silent: true, animation: false, clip: true,
    };
    if (zero) {
      s.markLine = {
        silent: true, symbol: ['none', 'none'], label: { show: false }, animation: false,
        lineStyle: { color: '#000', width: 2.5, type: 'solid' }, data: [{ yAxis: 0 }],
      };
    }
    return s;
  };

  // ---- top panels ----
  const topPanel = (o: any) => {
    const gi = grid.length;
    grid.push({ left: o.left, top: o.top, width: o.width, height: o.height, show: true, borderColor: '#000', borderWidth: 2.5, backgroundColor: 'transparent' });
    const xi = xAxis.length;
    xAxis.push({
      gridIndex: gi, type: 'value', min: o.xmin, max: o.xmax, position: 'bottom',
      axisLine: { show: false, onZero: false }, splitLine: { show: false },
      axisTick: { show: true, inside: true, length: 16, lineStyle: AXL, customValues: X_TICKS_TOP },
      axisLabel: { show: true, customValues: X_TICKS_TOP, margin: 14, ...tx(32, true) },
      name: 'Time delay (ps)', nameLocation: 'middle', nameGap: 57, nameTextStyle: tx(34, true),
    });
    xAxis.push({
      gridIndex: gi, type: 'value', min: o.xmin, max: o.xmax, position: 'bottom',
      axisLine: { show: false, onZero: false }, splitLine: { show: false },
      axisTick: { show: true, inside: true, length: 8, lineStyle: AXL, customValues: X_MINOR_TOP },
      axisLabel: { show: false },
    });
    const yi = yAxis.length;
    const y: any = {
      gridIndex: gi, type: 'value', min: o.ymin, max: o.ymax, position: 'left',
      axisLine: { show: false, onZero: false }, splitLine: { show: false },
      axisTick: { show: true, inside: true, length: 17, lineStyle: AXL, customValues: Y_TICKS_TOP },
      axisLabel: { show: false },
    };
    if (o.yLabels) {
      y.axisLabel = {
        show: true, customValues: Y_TICKS_TOP, margin: 11,
        formatter: (v: number) => (v === 5 ? '{m|5 x 10}{s|-5}' : '{m|' + v + '}'),
        rich: {
          m: { ...tx(32, true) },
          s: { ...tx(22, true), padding: [0, 0, 16, 1] },
        },
      };
      y.name = 'ΔR/R';
      y.nameLocation = 'middle';
      y.nameGap = 88;
      y.nameRotate = 90;
      y.nameTextStyle = tx(34, true);
    }
    yAxis.push(y);
    o.traces.forEach((tr: any, i: number) => series.push(lineSeries(tr[0], tr[1], zip(tr[2], tr[3]), xi, yi, i === 0)));
  };

  topPanel({
    left: 175, top: 127, width: 673, height: 581, xmin: -13, xmax: 351.4, ymin: -1.56, ymax: 5.04, yLabels: true,
    traces: [['2.2K', COL_22, T_TOP, A_2K2], ['4K', COL_4, T_TOP, A_4K], ['6K', COL_6, T_TOP, A_6K], ['8K', COL_8, T_TOP, A_8K],
      ['12K', COL_HI, T_TOP, A_12K], ['10K', COL_10, T_TOP, A_10K]],
  });
  topPanel({
    left: 929, top: 122, width: 662, height: 585, xmin: -13.8, xmax: 352.5, ymin: -1.58, ymax: 5.07, yLabels: false,
    traces: [['2.2K', COL_22, T_TOP, C_2K2], ['4K', COL_4, T_TOP, C_4K], ['6K', COL_6, T_TOP, C_6K], ['8K', COL_8, T_TOP, C_8K],
      ['11K', COL_HI, T_TOP, C_11K], ['10K', COL_10, T_TOP, C_10K]],
  });
  topPanel({
    left: 1668, top: 122, width: 685, height: 585, xmin: -13.3, xmax: 343.5, ymin: -1.58, ymax: 5.07, yLabels: false,
    traces: [['2.2K', COL_22, T_TOP_E, E_2K2], ['4K', COL_4, T_TOP_E, E_4K], ['6K', COL_6, T_TOP_E, E_6K], ['8K', COL_8, T_TOP_E, E_8K],
      ['15K', COL_HI, T_TOP_E, E_15K], ['10K', COL_10, T_TOP_E, E_10K]],
  });

  // ---- bottom panels with broken time axis ----
  const bottomPanel = (o: any) => {
    // left segment
    const gl = grid.length;
    grid.push({ left: o.L[0], top: o.top, width: o.L[1], height: o.height, show: false });
    const xl = xAxis.length;
    xAxis.push({
      gridIndex: gl, type: 'value', min: o.L[2], max: o.L[3], position: 'bottom',
      axisLine: { show: true, onZero: false, lineStyle: AXL }, splitLine: { show: false },
      axisTick: { show: true, inside: true, length: 17, lineStyle: AXL, customValues: X_TICKS_BL },
      axisLabel: { show: true, customValues: X_TICKS_BL, margin: 14, ...tx(33, true) },
    });
    xAxis.push({
      gridIndex: gl, type: 'value', min: o.L[2], max: o.L[3], position: 'bottom',
      axisLine: { show: false, onZero: false }, splitLine: { show: false },
      axisTick: { show: true, inside: true, length: 8, lineStyle: AXL, customValues: X_MINOR_BL },
      axisLabel: { show: false },
    });
    xAxis.push({
      gridIndex: gl, type: 'value', min: o.L[2], max: o.L[3], position: 'top',
      axisLine: { show: true, onZero: false, lineStyle: AXL }, splitLine: { show: false },
      axisTick: { show: false }, axisLabel: { show: false },
    });
    const yl = yAxis.length;
    const y: any = {
      gridIndex: gl, type: 'value', min: o.ymin, max: o.ymax, position: 'left',
      axisLine: { show: true, onZero: false, lineStyle: AXL }, splitLine: { show: false },
      axisTick: { show: true, inside: o.yInside, length: 16, lineStyle: AXL, customValues: Y_TICKS_BOT },
      axisLabel: { show: false },
    };
    if (o.yLabels) {
      y.axisLabel = {
        show: true, customValues: Y_TICKS_BOT, margin: 10,
        formatter: (v: number) => (v === 3 ? '{m|3 x 10}{s|-5}' : '{m|' + v + '}'),
        rich: { m: { ...tx(32, true) }, s: { ...tx(22, true), padding: [0, 0, 16, 1] } },
      };
      y.name = '{m|ΔR/R}{s|SC}';
      y.nameLocation = 'middle';
      y.nameGap = 82;
      y.nameRotate = 90;
      y.nameTextStyle = { rich: { m: { ...tx(34, true) }, s: { ...tx(23, true), padding: [16, 0, 0, 1] } } };
    }
    yAxis.push(y);
    // right segment
    const gr = grid.length;
    grid.push({ left: o.R[0], top: o.top, width: o.R[1], height: o.height, show: false });
    const xr = xAxis.length;
    xAxis.push({
      gridIndex: gr, type: 'value', min: o.R[2], max: o.R[3], position: 'bottom',
      axisLine: { show: true, onZero: false, lineStyle: AXL }, splitLine: { show: false },
      axisTick: { show: true, inside: true, length: 17, lineStyle: AXL, customValues: X_TICKS_BR },
      axisLabel: { show: true, customValues: X_TICKS_BR, margin: 14, ...tx(33, o.rightBold) },
    });
    xAxis.push({
      gridIndex: gr, type: 'value', min: o.R[2], max: o.R[3], position: 'top',
      axisLine: { show: true, onZero: false, lineStyle: AXL }, splitLine: { show: false },
      axisTick: { show: false }, axisLabel: { show: false },
    });
    const yr = yAxis.length;
    yAxis.push({
      gridIndex: gr, type: 'value', min: o.ymin, max: o.ymax, position: 'right',
      axisLine: { show: true, onZero: false, lineStyle: AXL }, splitLine: { show: false },
      axisTick: { show: false }, axisLabel: { show: false },
    });
    o.traces.forEach((tr: any, i: number) => {
      series.push(lineSeries(tr[0], tr[1], zip(T_BL, tr[2]), xl, yl, i === 0));
      series.push(lineSeries(tr[0], tr[1], zip(o.tR, tr[3]), xr, yr, i === 0));
    });
  };

  bottomPanel({
    L: [157, 332.5, -11, 50], R: [516, 332, 60, 342.6], top: 906, height: 569, ymin: -0.49, ymax: 3.49,
    yLabels: true, yInside: false, rightBold: true, tR: T_BR_B,
    traces: [['2.2K', COL_22, B_2K2_L, B_2K2_R], ['4K', COL_4, B_4K_L, B_4K_R], ['6K', COL_6, B_6K_L, B_6K_R],
      ['8K', COL_8, B_8K_L, B_8K_R], ['10K', COL_10, B_10K_L, B_10K_R]],
  });
  bottomPanel({
    L: [929, 324, -10.7, 49.86], R: [1277, 323, 51, 352.2], top: 907, height: 571, ymin: -0.5, ymax: 3.51,
    yLabels: false, yInside: true, rightBold: false, tR: T_BR_D,
    traces: [['2.2K', COL_22, D_2K2_L, D_2K2_R], ['4K', COL_4, D_4K_L, D_4K_R], ['6K', COL_6, D_6K_L, D_6K_R],
      ['8K', COL_8, D_8K_L, D_8K_R], ['10K', COL_10, D_10K_L, D_10K_R]],
  });
  bottomPanel({
    L: [1682, 330, -11.1, 50.1], R: [2038, 330, 50, 343.3], top: 910, height: 570, ymin: -0.51, ymax: 3.51,
    yLabels: false, yInside: true, rightBold: false, tR: T_BR_F,
    traces: [['2.2K', COL_22, F_2K2_L, F_2K2_R], ['4K', COL_4, F_4K_L, F_4K_R], ['6K', COL_6, F_6K_L, F_6K_R],
      ['8K', COL_8, F_8K_L, F_8K_R], ['10K', COL_10, F_10K_L, F_10K_R]],
  });

  // ---- panel (g) ----
  const gg = grid.length;
  grid.push({ left: 2550, top: 245, width: 730, height: 1055, show: true, borderColor: '#000', borderWidth: 2.5, backgroundColor: 'transparent' });
  const xg = xAxis.length;
  xAxis.push({
    gridIndex: gg, type: 'value', min: 1.84, max: 9.475, position: 'bottom',
    axisLine: { show: false, onZero: false }, splitLine: { show: false },
    axisTick: { show: true, inside: false, length: 21, lineStyle: AXL, customValues: G_X_TICKS },
    axisLabel: { show: true, customValues: G_X_TICKS, margin: 38, ...tx(42, true) },
    name: 'Temperature (K)', nameLocation: 'middle', nameGap: 98, nameTextStyle: tx(44, true),
  });
  const yg = yAxis.length;
  yAxis.push({
    gridIndex: gg, type: 'value', min: -0.28, max: 5.28, position: 'left',
    axisLine: { show: false, onZero: false }, splitLine: { show: false },
    axisTick: { show: true, inside: false, length: 21, lineStyle: AXL, customValues: G_Y_TICKS },
    axisLabel: { show: true, customValues: G_Y_TICKS, margin: 30, ...tx(42, true) },
    name: '{m|n}{s|T}{m| (a. u.)}', nameLocation: 'middle', nameGap: 92, nameRotate: 90,
    nameTextStyle: { rich: { m: { ...tx(44, true) }, s: { ...tx(28, true), padding: [18, 0, 0, 1] } } },
  });
  series.push({
    type: 'line', name: 'Tc', xAxisIndex: xg, yAxisIndex: yg, data: [[TC, 5.44], [TC, -0.26]], showSymbol: false, symbol: 'none',
    color: '#000', lineStyle: { color: '#000', width: 11, type: [22, 23] }, clip: false, silent: true, animation: false,
  });
  const markerSeries = (name: string, kind: string, t: number[], v: number[]) => ({
    type: 'custom', name, xAxisIndex: xg, yAxisIndex: yg, data: zip(t, v), clip: false, silent: true, animation: false,
    renderItem: (_p: any, api: any) => {
      const p = api.coord([api.value(0), api.value(1)]);
      return { type: 'group', children: markerShapes(kind, p[0], p[1]) };
    },
  });
  series.push(markerSeries('SRF Cavity', 'srf', G_T_SRF, G_N_SRF));
  series.push(markerSeries('HiPIMS', 'hipims', G_T_HIPIMS, G_N_HIPIMS));
  series.push(markerSeries('DC high', 'dchigh', G_T_DCHIGH, G_N_DCHIGH));
  series.push(markerSeries('DC LH', 'dclh', G_T_DCLH, G_N_DCLH));

  // ---- texts & decorations ----
  const text = (s: string, x: number, y: number, size: number, bold = false, align = 'center') => ({
    type: 'text', x, y, silent: true,
    style: { text: s, fontFamily: FONT, fontSize: size, fontWeight: bold ? 'bold' : 'normal', fill: '#000', align, verticalAlign: 'middle' },
  });
  graphic.push(text('Nb/Si, DC high', 523, 56, 54));
  graphic.push(text('Nb/Si, DC LH', 1268, 56, 54));
  graphic.push(text('Nb/Si, HiPIMS', 2007, 51, 54));
  graphic.push(text('(a)', 757, 180, 54));
  graphic.push(text('(c)', 1528, 185, 54));
  graphic.push(text('(e)', 2295, 187, 54));
  graphic.push(text('(b)', 212, 1015, 54));
  graphic.push(text('(d)', 987, 1003, 54));
  graphic.push(text('(f)', 1751, 1023, 54));
  graphic.push(text('(g)', 2637, 300, 54));
  graphic.push(text('Time delay (ps)', 537, 1557, 34, true));
  graphic.push(text('Time delay (ps)', 1250, 1553, 34, true));
  graphic.push(text('Time delay (ps)', 2013, 1550, 34, true));
  graphic.push(text('Tc', 3218, 162, 70));
  graphic.push(text('Nb resonators', 2607, 396, 38, false, 'left'));
  graphic.push(text('and cavity cutout', 2607, 441, 38, false, 'left'));
  const slash = (x1: number, y1: number, x2: number, y2: number) => ({
    type: 'line', silent: true, shape: { x1, y1, x2, y2 }, style: { stroke: '#000', lineWidth: 2.5 },
  });
  graphic.push(slash(483, 1461, 495, 1490), slash(509, 1461, 522, 1490));
  graphic.push(slash(1249, 1467, 1259, 1490), slash(1271, 1467, 1281, 1490));
  const legG = [['HiPIMS', 'hipims', 534], ['DC high', 'dchigh', 580], ['DC LH', 'dclh', 625], ['SRF Cavity', 'srf', 672]];
  legG.forEach(([label, kind, y]: any) => {
    graphic.push({ type: 'group', silent: true, children: markerShapes(kind, 2623, y) });
    graphic.push(text(label, 2652, y, 40, false, 'left'));
  });

  const legBase = {
    icon: 'rect', itemWidth: 21, itemHeight: 6, padding: 0, selectedMode: false,
    textStyle: { fontFamily: FONT, fontSize: 31, color: '#000', padding: [0, 0, 0, 9] },
  };
  const legend = [
    { ...legBase, orient: 'vertical', itemGap: 5.5, left: 467, top: 200, data: ['2.2K', '6K', '10K'] },
    { ...legBase, orient: 'vertical', itemGap: 5.5, left: 577, top: 200, data: ['4K', '8K', '12K'] },
    { ...legBase, orient: 'vertical', itemGap: 5.5, left: 1211, top: 186, data: ['2.2K', '6K', '10K'] },
    { ...legBase, orient: 'vertical', itemGap: 5.5, left: 1327, top: 186, data: ['4K', '8K', '11K'] },
    { ...legBase, orient: 'vertical', itemGap: 5.5, left: 1922, top: 181, data: ['2.2K', '6K', '10K'] },
    { ...legBase, orient: 'vertical', itemGap: 5.5, left: 2035, top: 181, data: ['4K', '8K', '15K'] },
    { ...legBase, orient: 'horizontal', itemGap: 14, left: 283, top: 924, data: ['2.2K', '4K', '6K', '8K', '10K'] },
    { ...legBase, orient: 'horizontal', itemGap: 14, left: 1035, top: 933, data: ['2.2K', '4K', '6K', '8K', '10K'] },
    { ...legBase, orient: 'horizontal', itemGap: 14, left: 1807, top: 940, data: ['2.2K', '4K', '6K', '8K', '10K'] },
  ];

  return {
    animation: false,
    backgroundColor: '#ffffff',
    textStyle: { fontFamily: FONT },
    grid, xAxis, yAxis, series, legend, graphic,
  };
}

export default function App() {
  const ref = useRef<HTMLDivElement>(null);
  useEffect(() => {
    document.body.style.margin = '0';
    const chart = echarts.init(ref.current as HTMLDivElement, null, { renderer: 'svg', width: 3303, height: 1610 });
    chart.setOption(buildOption() as any);
    return () => chart.dispose();
  }, []);
  return <div ref={ref} style={{ position: 'absolute', left: 0, top: 0, width: 3303, height: 1610, background: '#fff' }} />;
}
